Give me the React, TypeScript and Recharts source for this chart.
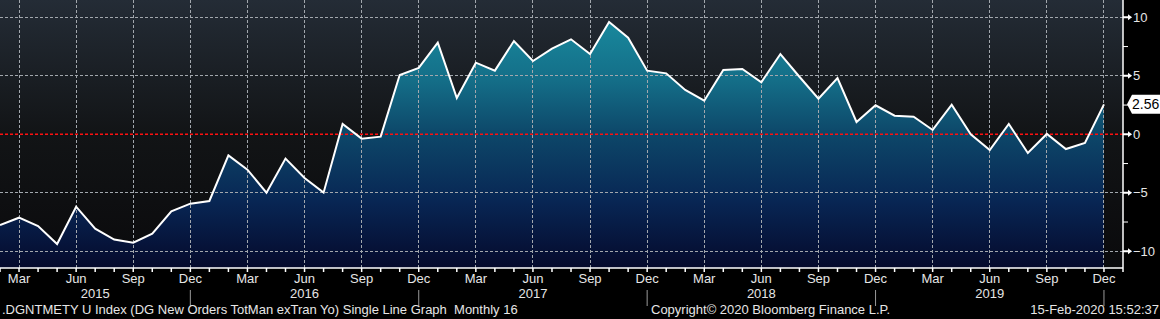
import React from 'react';
import { ComposedChart, Area, Line, XAxis, YAxis, CartesianGrid, ReferenceLine } from 'recharts';

// monthly observations, Feb 2015 .. Dec 2019
const dates = [
  '2015-02', '2015-03', '2015-04', '2015-05', '2015-06', '2015-07', '2015-08', '2015-09', '2015-10', '2015-11', '2015-12',
  '2016-01', '2016-02', '2016-03', '2016-04', '2016-05', '2016-06', '2016-07', '2016-08', '2016-09', '2016-10', '2016-11', '2016-12',
  '2017-01', '2017-02', '2017-03', '2017-04', '2017-05', '2017-06', '2017-07', '2017-08', '2017-09', '2017-10', '2017-11', '2017-12',
  '2018-01', '2018-02', '2018-03', '2018-04', '2018-05', '2018-06', '2018-07', '2018-08', '2018-09', '2018-10', '2018-11', '2018-12',
  '2019-01', '2019-02', '2019-03', '2019-04', '2019-05', '2019-06', '2019-07', '2019-08', '2019-09', '2019-10', '2019-11', '2019-12',
];

const values = [
  -7.75, -7.13, -7.84, -9.38, -6.19, -8.07, -9.0, -9.26, -8.49, -6.58, -5.93,
  -5.7, -1.8, -3.02, -4.99, -2.08, -3.73, -4.99, 0.88, -0.37, -0.2, 5.07, 5.67,
  7.83, 3.1, 6.12, 5.44, 7.97, 6.26, 7.32, 8.12, 6.86, 9.6, 8.26, 5.44,
  5.21, 3.79, 2.87, 5.5, 5.58, 4.45, 6.86, 4.92, 3.04, 4.81, 1.05, 2.48,
  1.59, 1.5, 0.37, 2.53, 0.0, -1.34, 0.88, -1.6, 0.03, -1.26, -0.74, 2.56,
];

const monthNames = ['Jan', 'Feb', 'Mar', 'Apr', 'May', 'Jun', 'Jul', 'Aug', 'Sep', 'Oct', 'Nov', 'Dec'];
const quarterMonths = ['Mar', 'Jun', 'Sep', 'Dec'];
const yearLabelDates = ['2015-07', '2016-06', '2017-06', '2018-06', '2019-06'];
const yTicks = [-10, -7.5, -5, -2.5, 0, 2.5, 5, 7.5, 10];
const yGrid = [-10, -5, 5, 10];

const titleText = '.DGNTMETY U Index (DG New Orders TotMan exTran Yo) Single Line Graph  Monthly 16';
const copyrightText = 'Copyright\u00a9 2020 Bloomberg Finance L.P.';
const stampText = '15-Feb-2020 15:52:37';

const data = dates.map((date, i) => ({ i, date, value: values[i] }));
const monthOf = (d: string) => monthNames[parseInt(d.slice(5, 7), 10) - 1];
const monthTicks = [...data.map((d) => d.i), data.length];
const quarterIdx = data.filter((d) => quarterMonths.includes(monthOf(d.date))).map((d) => d.i);
const last = data[data.length - 1];

const FONT = '"Liberation Sans", Arial, sans-serif';
const TXT = '#e6e6e6';
const GRID = '#a2a7ad';

const MonthTick = ({ x, y, payload }: any) => {
  const d = dates[payload.value];
  if (!d) return null;
  const m = monthOf(d);
  const isQ = quarterMonths.includes(m);
  const yr = yearLabelDates.includes(d) ? d.slice(0, 4) : null;
  return (
    <g>
      {isQ && (
        <text x={x} y={y} dy="0.71em" textAnchor="middle" fill={TXT} fontSize={13} fontFamily={FONT}>
          {m}
        </text>
      )}
      {yr && (
        <text x={x} y={y + 15} dy="0.71em" textAnchor="middle" fill={TXT} fontSize={13} fontFamily={FONT}>
          {yr}
        </text>
      )}
      {m === 'Dec' && <line x1={x} x2={x} y1={y + 16} y2={y + 32} stroke="#9a9a9a" strokeWidth={1} />}
    </g>
  );
};

const ValueTick = ({ x, y, payload }: any) => {
  const v = payload.value;
  const major = v % 5 === 0;
  if (!major) return <line x1={x} x2={x + 5} y1={y} y2={y} stroke="#ffffff" strokeWidth={1} />;
  return (
    <g>
      <polygon points={`${x},${y - 1} ${x + 5},${y - 1} ${x + 9},${y} ${x + 5},${y + 1} ${x},${y + 1}`} fill="#ffffff" />
      <polygon points={`${x + 5},${y - 3} ${x + 9},${y} ${x + 5},${y + 3}`} fill="#ffffff" />
      <text x={x + 10} y={y} dy="0.36em" fill={TXT} fontSize={13} fontFamily={FONT}>
        {v < 0 ? `\u2212${Math.abs(v)}` : v}
      </text>
    </g>
  );
};

const LastLabel = ({ viewBox }: any) => {
  if (!viewBox) return null;
  const x = viewBox.x + viewBox.width + 4;
  const y = viewBox.y;
  return (
    <g>
      <path d={`M${x},${y} L${x + 5},${y - 9.5} L${x + 34},${y - 9.5} L${x + 34},${y + 9.5} L${x + 5},${y + 9.5} Z`} fill="#ffffff" />
      <text x={x + 5} y={y} dy="0.36em" fill="#000000" fontSize={14} fontFamily={FONT}>
        {last.value.toFixed(2)}
      </text>
    </g>
  );
};

export default function App() {
  return (
    <div style={{ position: 'absolute', left: 0, top: 0, width: 1160, height: 319, background: '#000000', overflow: 'hidden' }}>
      <ComposedChart width={1160} height={319} data={data} margin={{ top: 0, right: 0, bottom: 0, left: 0 }}>
        <defs>
          <linearGradient id="bgFill" x1="0" y1="0" x2="0" y2="1">
            <stop offset="0%" stopColor="#242c36" />
            <stop offset="50%" stopColor="#121416" />
            <stop offset="100%" stopColor="#0a0a0c" />
          </linearGradient>
          <linearGradient id="areaFill" gradientUnits="userSpaceOnUse" x1="0" y1="0" x2="0" y2="268">
            <stop offset="0%" stopColor="#1a92a4" />
            <stop offset="30%" stopColor="#146e88" />
            <stop offset="50%" stopColor="#0d4769" />
            <stop offset="75%" stopColor="#082654" />
            <stop offset="100%" stopColor="#050a2c" />
          </linearGradient>
        </defs>
        <CartesianGrid horizontal={false} vertical={false} fill="url(#bgFill)" stroke="none" />
        <XAxis
          type="number"
          dataKey="i"
          domain={[0, 59]}
          ticks={monthTicks}
          interval={0}
          height={51}
          axisLine={{ stroke: '#ffffff', strokeWidth: 1.5 }}
          tickLine={{ stroke: '#ffffff', strokeWidth: 1.5 }}
          tickSize={4}
          tickMargin={2}
          tick={<MonthTick />}
          allowDataOverflow
        />
        <YAxis
          orientation="right"
          type="number"
          domain={[-11.43, 11.48]}
          ticks={yTicks}
          interval={0}
          width={37}
          axisLine={{ stroke: '#ffffff', strokeWidth: 1.5 }}
          tickLine={false}
          tickSize={0}
          tickMargin={0}
          tick={<ValueTick />}
          allowDataOverflow
        />
        <Area
          type="linear"
          dataKey="value"
          stroke="none"
          fill="url(#areaFill)"
          fillOpacity={1}
          baseValue="dataMin"
          isAnimationActive={false}
          dot={false}
          activeDot={false}
        />
        {quarterIdx.map((q) => (
          <ReferenceLine key={`v${q}`} x={q} stroke={GRID} strokeWidth={1} strokeDasharray="3 2" shapeRendering="crispEdges" />
        ))}
        {yGrid.map((g) => (
          <ReferenceLine key={`h${g}`} y={g} stroke={GRID} strokeWidth={1} strokeDasharray="3 2" shapeRendering="crispEdges" />
        ))}
        <ReferenceLine y={0} stroke="#ff1010" strokeWidth={1.5} strokeDasharray="3 2" />
        <ReferenceLine y={last.value} stroke="none" label={<LastLabel />} />
        <Line
          type="linear"
          dataKey="value"
          stroke="#ffffff"
          strokeWidth={2}
          dot={false}
          activeDot={false}
          isAnimationActive={false}
        />
      </ComposedChart>
      <div style={{ position: 'absolute', left: 2, top: 302, fontFamily: FONT, fontSize: 13, color: TXT, whiteSpace: 'pre', lineHeight: '15px' }}>
        {titleText}
      </div>
      <div style={{ position: 'absolute', left: 651, top: 302, fontFamily: FONT, fontSize: 13, color: TXT, whiteSpace: 'pre', lineHeight: '15px' }}>
        {copyrightText}
      </div>
      <div style={{ position: 'absolute', right: 1, top: 302, fontFamily: FONT, fontSize: 13, color: TXT, whiteSpace: 'pre', lineHeight: '15px' }}>
        {stampText}
      </div>
    </div>
  );
}
